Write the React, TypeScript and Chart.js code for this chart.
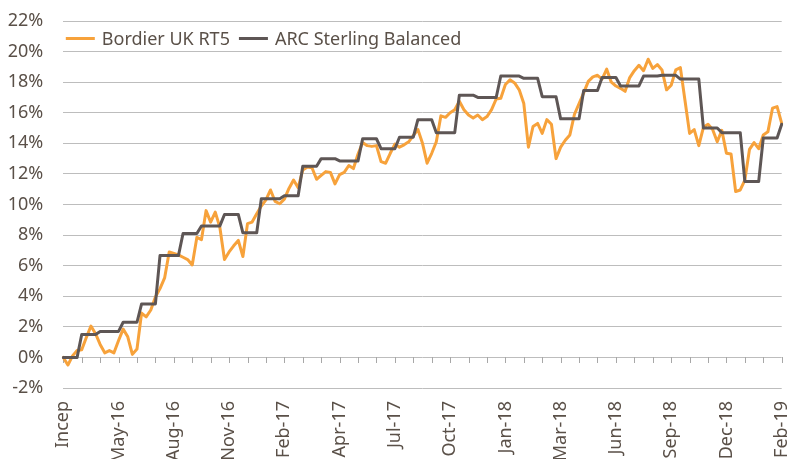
import React, { useEffect, useRef } from 'react';
import { Chart, registerables } from 'chart.js';

Chart.register(...registerables);

// Axis labels (one every 12 weekly points), tick marks every 4 points
const tickLabels = ['Incep', 'May-16', 'Aug-16', 'Nov-16', 'Feb-17', 'Apr-17', 'Jul-17', 'Oct-17', 'Jan-18', 'Mar-18', 'Jun-18', 'Sep-18', 'Dec-18', 'Feb-19'];
const weeksPerLabel = 12;
const weeksPerTick = 4;

// Cumulative performance (%) – weekly
const bordierUKRT5 = [
  0.0, -0.5, 0.1, 0.45, 0.5, 1.3, 2.05, 1.55, 0.85, 0.3,
  0.45, 0.3, 1.1, 1.85, 1.35, 0.2, 0.55, 2.9, 2.65, 3.1,
  3.95, 4.5, 5.2, 6.9, 6.8, 6.7, 6.55, 6.4, 6.05, 7.85,
  7.7, 9.6, 8.85, 9.5, 8.5, 6.4, 6.9, 7.3, 7.65, 6.6,
  8.75, 8.85, 9.4, 9.9, 10.3, 10.95, 10.2, 10.05, 10.35, 11.05,
  11.6, 11.1, 12.25, 12.45, 12.4, 11.65, 11.9, 12.15, 12.1, 11.35,
  11.95, 12.1, 12.55, 12.35, 13.3, 14.05, 13.85, 13.8, 13.85, 12.8,
  12.7, 13.35, 13.95, 13.75, 13.9, 14.1, 14.5, 14.9, 14.0, 12.7,
  13.35, 14.1, 15.8, 15.7, 16.0, 16.2, 16.75, 16.2, 15.85, 15.65,
  15.85, 15.55, 15.75, 16.2, 16.9, 16.95, 17.85, 18.15, 17.95, 17.5,
  16.6, 13.75, 15.1, 15.3, 14.65, 15.55, 15.25, 13.0, 13.75, 14.2,
  14.55, 15.9, 16.6, 17.3, 18.05, 18.35, 18.45, 18.2, 18.85, 18.0,
  17.75, 17.6, 17.4, 18.3, 18.75, 19.1, 18.75, 19.5, 18.9, 19.15,
  18.8, 17.5, 17.8, 18.8, 18.95, 16.8, 14.65, 14.9, 13.85, 15.05,
  15.25, 14.9, 14.1, 14.85, 13.35, 13.3, 10.85, 10.95, 11.6, 13.6,
  14.05, 13.65, 14.55, 14.75, 16.3, 16.4, 15.3,
];

const arcSterlingBalanced = [
  0.0, 0.0, 0.0, 0.0, 1.5, 1.5, 1.5, 1.5, 1.7, 1.7,
  1.7, 1.7, 1.7, 2.3, 2.3, 2.3, 2.3, 3.5, 3.5, 3.5,
  3.5, 6.66, 6.66, 6.66, 6.66, 6.66, 8.1, 8.1, 8.1, 8.1,
  8.6, 8.6, 8.6, 8.6, 8.6, 9.35, 9.35, 9.35, 9.35, 8.15,
  8.15, 8.15, 8.15, 10.38, 10.38, 10.38, 10.38, 10.38, 10.57, 10.57,
  10.57, 10.57, 12.5, 12.5, 12.5, 12.5, 13.0, 13.0, 13.0, 13.0,
  12.85, 12.85, 12.85, 12.85, 12.85, 14.3, 14.3, 14.3, 14.3, 13.65,
  13.65, 13.65, 13.65, 14.4, 14.4, 14.4, 14.4, 15.55, 15.55, 15.55,
  15.55, 14.7, 14.7, 14.7, 14.7, 14.7, 17.15, 17.15, 17.15, 17.15,
  17.0, 17.0, 17.0, 17.0, 17.0, 18.4, 18.4, 18.4, 18.4, 18.4,
  18.25, 18.25, 18.25, 18.25, 17.05, 17.05, 17.05, 17.05, 15.6, 15.6,
  15.6, 15.6, 15.6, 17.45, 17.45, 17.45, 17.45, 18.3, 18.3, 18.3,
  18.3, 17.75, 17.75, 17.75, 17.75, 17.75, 18.4, 18.4, 18.4, 18.4,
  18.45, 18.45, 18.45, 18.45, 18.2, 18.2, 18.2, 18.2, 18.2, 15.0,
  15.0, 15.0, 15.0, 14.7, 14.7, 14.7, 14.7, 14.7, 11.5, 11.5,
  11.5, 11.5, 14.35, 14.35, 14.35, 14.35, 15.25,
];

const yMin = -2;
const yMax = 22;
const yStep = 2;

const seriesNames = ['Bordier UK RT5', 'ARC Sterling Balanced'];
const seriesColors = ['#F7A23B', '#5E5655'];

const FONT = '"Noto Sans", sans-serif';
const TEXT = '#5A5048';
const GRID = '#BDBDBD';

// One category per weekly point, labelled every 12th
const categories = bordierUKRT5.map((_, i) => (i % weeksPerLabel === 0 ? tickLabels[i / weeksPerLabel] : ''));

const zeroTicks = {
  id: 'zeroTicks',
  beforeDatasetsDraw(chart: any) {
    const { ctx, scales } = chart;
    const x = scales.x;
    const y = scales.y;
    const y0 = Math.round(y.getPixelForValue(0));
    ctx.save();
    ctx.strokeStyle = '#A8A8A8';
    ctx.lineWidth = 1;
    for (let i = 0; i < categories.length; i += weeksPerTick) {
      const px = Math.round(x.getPixelForValue(i)) + 0.5;
      ctx.beginPath();
      ctx.moveTo(px, y0);
      ctx.lineTo(px, y0 + 6);
      ctx.stroke();
    }
    ctx.restore();
  },
};

const inlineLegend = {
  id: 'inlineLegend',
  afterDraw(chart: any) {
    const { ctx, chartArea } = chart;
    ctx.save();
    ctx.font = `18px ${FONT}`;
    ctx.textBaseline = 'middle';
    ctx.textAlign = 'left';
    let xx = chartArea.left + 2.5;
    const yy = chartArea.top + 17.5;
    chart.data.datasets.forEach((ds: any) => {
      ctx.strokeStyle = ds.borderColor;
      ctx.lineWidth = 3;
      ctx.beginPath();
      ctx.moveTo(xx, yy);
      ctx.lineTo(xx + 29, yy);
      ctx.stroke();
      ctx.fillStyle = TEXT;
      ctx.fillText(ds.label, xx + 36, yy + 1);
      xx += 36 + ctx.measureText(ds.label).width + 9;
    });
    ctx.restore();
  },
};

export default function App() {
  const canvasRef = useRef<HTMLCanvasElement | null>(null);

  useEffect(() => {
    const canvas = canvasRef.current;
    if (!canvas) return;
    const chart = new Chart(canvas, {
      type: 'line',
      data: {
        labels: categories,
        datasets: [
          {
            label: seriesNames[0],
            data: bordierUKRT5,
            borderColor: seriesColors[0],
            backgroundColor: seriesColors[0],
            borderWidth: 3,
            pointRadius: 0,
            tension: 0,
            borderJoinStyle: 'round',
            borderCapStyle: 'round',
            order: 1,
          },
          {
            label: seriesNames[1],
            data: arcSterlingBalanced,
            borderColor: seriesColors[1],
            backgroundColor: seriesColors[1],
            borderWidth: 3,
            pointRadius: 0,
            tension: 0,
            borderJoinStyle: 'round',
            borderCapStyle: 'round',
            order: 0,
          },
        ],
      },
      options: {
        animation: false,
        responsive: false,
        maintainAspectRatio: false,
        devicePixelRatio: 1,
        layout: { padding: { left: 8, right: 8.3, top: 21, bottom: 0 } },
        plugins: {
          legend: { display: false },
          tooltip: { enabled: false },
          title: { display: false },
        },
        scales: {
          x: {
            type: 'category',
            offset: false,
            grid: { display: false, drawTicks: false },
            border: { display: false },
            ticks: {
              autoSkip: false,
              maxRotation: 90,
              minRotation: 90,
              padding: 13,
              color: TEXT,
              font: { family: FONT, size: 18 },
            },
            afterFit(scale: any) {
              scale.height = 71;
              scale.paddingLeft = 0;
              scale.paddingRight = 0;
            },
          },
          y: {
            min: yMin,
            max: yMax,
            grid: { color: GRID, lineWidth: 1, drawTicks: false },
            border: { display: false },
            ticks: {
              stepSize: yStep,
              padding: 20,
              color: TEXT,
              font: { family: FONT, size: 18 },
              callback: (v: any) => `${v}%`,
            },
            afterFit(scale: any) {
              scale.width = 55.3;
              scale.paddingTop = 0;
              scale.paddingBottom = 0;
            },
          },
        },
      },
      plugins: [zeroTicks, inlineLegend],
    });
    return () => chart.destroy();
  }, []);

  return (
    <div style={{ position: 'fixed', left: 0, top: 0, width: 790, height: 459, background: '#ffffff' }}>
      <canvas ref={canvasRef} width={790} height={459} style={{ display: 'block', width: 790, height: 459 }} />
    </div>
  );
}
